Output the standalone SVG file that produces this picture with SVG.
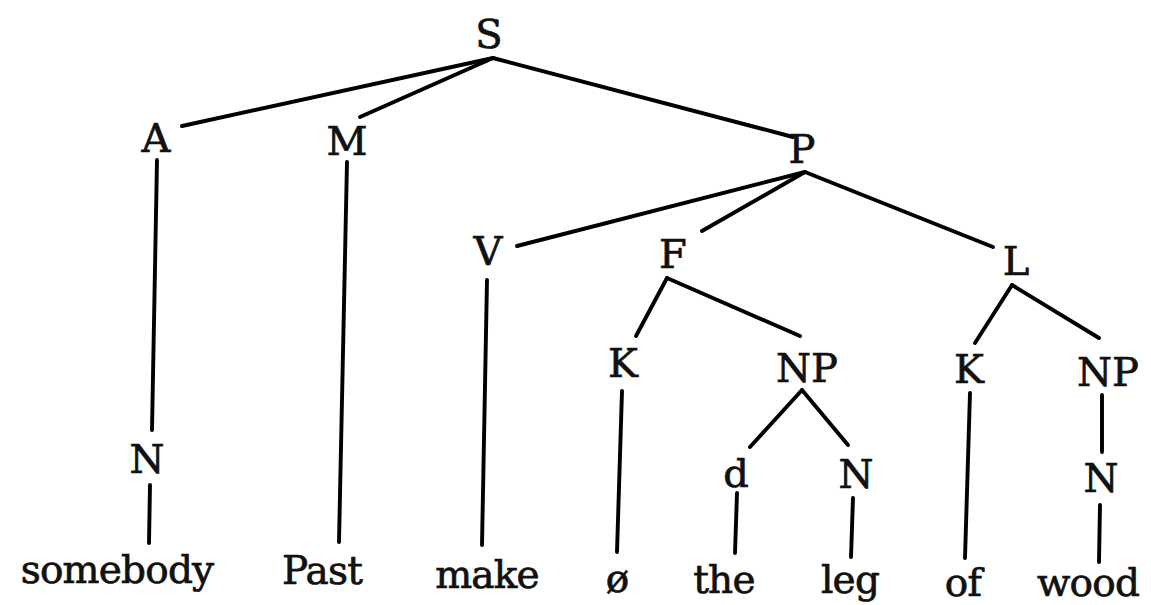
<svg xmlns="http://www.w3.org/2000/svg" width="1151" height="605" viewBox="0 0 1151 605">
<style>
text{font-family:"DejaVu Serif","Liberation Serif",serif;font-size:40px;fill:#111;stroke:#111;stroke-width:0.7;text-anchor:middle}
.w{font-size:39px;letter-spacing:-0.8px}
.e line{stroke:#000;stroke-width:3.9;stroke-linecap:round}
</style>
<rect width="1151" height="605" fill="#fff"/>
<g class="e" id="connectors">
<line x1="493" y1="58" x2="182" y2="126"/>
<line x1="493" y1="58" x2="360" y2="117"/>
<line x1="493" y1="58" x2="793" y2="137"/>
<line x1="157" y1="160" x2="152" y2="430"/>
<line x1="150" y1="485" x2="149" y2="543"/>
<line x1="347" y1="162" x2="339" y2="542"/>
<line x1="805" y1="172" x2="517" y2="246"/>
<line x1="805" y1="172" x2="702" y2="231"/>
<line x1="805" y1="172" x2="993" y2="247"/>
<line x1="487" y1="280" x2="482" y2="545"/>
<line x1="667" y1="278" x2="636" y2="336"/>
<line x1="667" y1="278" x2="800" y2="336"/>
<line x1="1012" y1="285" x2="975" y2="343"/>
<line x1="1012" y1="285" x2="1099" y2="338"/>
<line x1="622" y1="391" x2="617" y2="552"/>
<line x1="802" y1="390" x2="750" y2="447"/>
<line x1="802" y1="390" x2="848" y2="445"/>
<line x1="737" y1="493" x2="735" y2="553"/>
<line x1="853" y1="498" x2="851" y2="557"/>
<line x1="970" y1="393" x2="965" y2="558"/>
<line x1="1102" y1="395" x2="1102" y2="452"/>
<line x1="1100" y1="505" x2="1099" y2="562"/>
</g>
<g id="S"><text x="489" y="48">S</text></g>
<g id="A"><text x="156" y="152">A</text></g>
<g id="M"><text x="347" y="155">M</text></g>
<g id="P"><text x="802" y="163">P</text></g>
<g id="V"><text x="488" y="265">V</text></g>
<g id="F"><text x="673" y="268">F</text></g>
<g id="L"><text x="1016" y="275">L</text></g>
<g id="K1"><text x="623" y="377">K</text></g>
<g id="NP1"><text x="807" y="382">NP</text></g>
<g id="K2"><text x="969" y="383">K</text></g>
<g id="NP2"><text x="1108" y="386">NP</text></g>
<g id="N1"><text x="147" y="473">N</text></g>
<g id="d"><text x="736" y="487">d</text></g>
<g id="N2"><text x="856" y="488">N</text></g>
<g id="N3"><text x="1101" y="492">N</text></g>
<g id="w-somebody"><text class="w" x="117" y="583">somebody</text></g>
<g id="w-Past"><text class="w" x="322" y="584">Past</text></g>
<g id="w-make"><text class="w" x="487" y="588">make</text></g>
<g id="w-null"><text class="w" x="617" y="592">ø</text></g>
<g id="w-the"><text class="w" x="724" y="593">the</text></g>
<g id="w-leg"><text class="w" x="850" y="593">leg</text></g>
<g id="w-of"><text class="w" x="963" y="596">of</text></g>
<g id="w-wood"><text class="w" x="1088" y="596">wood</text></g>
</svg>
